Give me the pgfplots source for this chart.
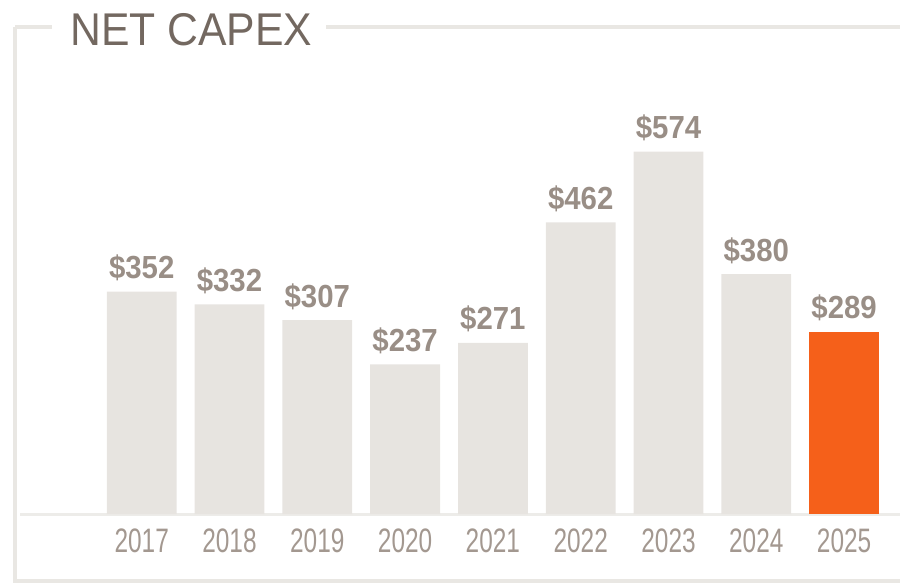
\documentclass[border=0pt]{standalone}
\usepackage{fontspec}
\setmainfont{Liberation Sans}
\newfontfamily\titlefont[FakeStretch=0.93]{Liberation Sans}
\newfontfamily\valfont[FakeStretch=0.92]{Liberation Sans}
\newfontfamily\yearfont[FakeStretch=0.72]{Liberation Sans}
\usepackage{pgfplots}
\pgfplotsset{compat=1.18}
\definecolor{barg}{HTML}{E7E4E0}
\definecolor{orng}{HTML}{F5601A}
\definecolor{titlec}{HTML}{736860}
\definecolor{valc}{HTML}{998E86}
\definecolor{yearc}{HTML}{A39890}
\definecolor{framec}{HTML}{E9E7E3}
\begin{document}
\begin{tikzpicture}
\begin{axis}[
  scale only axis,
  width=451pt, height=292.5pt,
  xmin=-1.6136, xmax=8.6364,
  ymin=-110.6, ymax=813.6,
  axis line style={draw=none},
  major tick length=0pt,
  ytick=\empty,
  xtick={0,1,2,3,4,5,6,7,8},
  xticklabels={2017,2018,2019,2020,2021,2022,2023,2024,2025},
  xticklabel style={font=\yearfont\fontsize{17}{17}\selectfont, text=yearc, anchor=center, yshift=21.5pt},
  clip=false,
  /pgf/number format/assume math mode=true,
  nodes near coords={\$\pgfmathprintnumber[assume math mode=true]{\pgfplotspointmeta}},
  nodes near coords style={font=\valfont\bfseries\fontsize{16}{16}\selectfont, text=valc, anchor=base, yshift=6.5pt, inner sep=0pt},
]
% frame
\draw[framec, line width=2pt] (axis description cs:0.01663,0.9538) -- (axis description cs:0.0576,0.9538);
\draw[framec, line width=2pt] (axis description cs:0.3625,0.9538) -- (axis description cs:1,0.9538);
\draw[framec, line width=2pt] (axis description cs:0.01663,0.9538) -- (axis description cs:0.01663,0.00513) -- (axis description cs:1,0.00513);
\draw[framec!80!white, line width=1.5pt] (axis description cs:0.0222,0.1197) -- (axis description cs:1,0.1197);
\node[anchor=base west, inner sep=0pt, font=\titlefont\fontsize{23}{23}\selectfont, text=titlec] at (axis description cs:0.0776,0.9231) {NET CAPEX};
\addplot[ybar, bar shift=0pt, bar width=0.795, fill=barg, draw=none] coordinates {
(0,352) (1,332) (2,307) (3,237) (4,271) (5,462) (6,574) (7,380)};
\addplot[ybar, bar shift=0pt, bar width=0.795, fill=orng, draw=none] coordinates {(8,289)};
\end{axis}
\end{tikzpicture}
\end{document}
